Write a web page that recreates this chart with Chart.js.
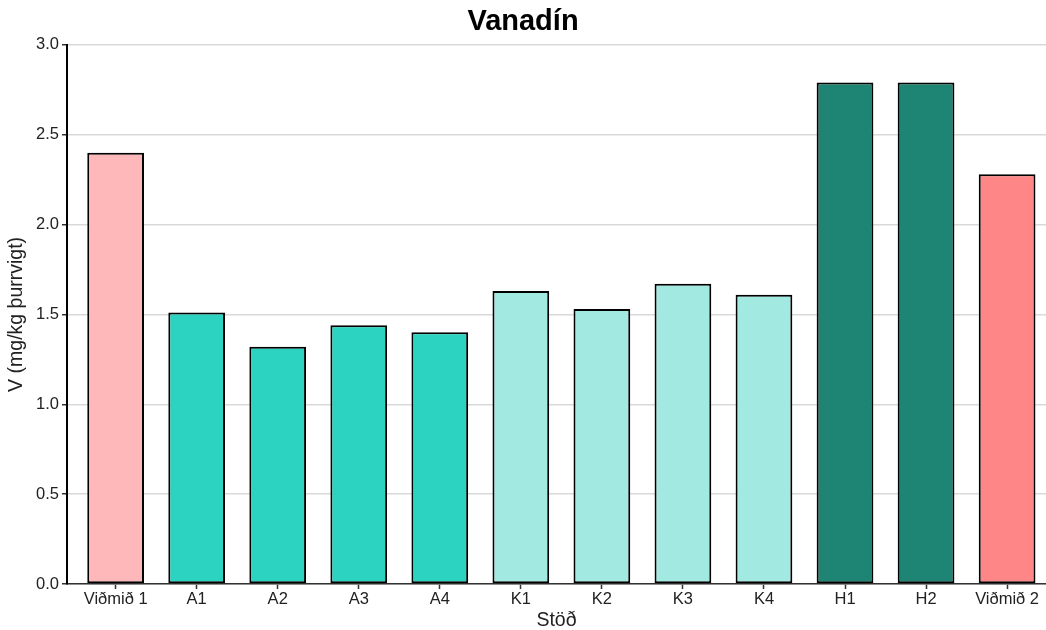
<!DOCTYPE html>
<html>
<head>
<meta charset="utf-8">
<title>Vanadín</title>
<script src="https://cdn.jsdelivr.net/npm/chart.js@4"></script>
<style>
  html, body { margin: 0; padding: 0; background: #fff; }
  #chartBox { width: 1046px; height: 630px; }
</style>
</head>
<body>
<div id="chartBox"><canvas id="dataChart" width="1046" height="630"></canvas></div>
<script>
const stations = ['Viðmið 1', 'A1', 'A2', 'A3', 'A4', 'K1', 'K2', 'K3', 'K4', 'H1', 'H2', 'Viðmið 2'];
const vanadium = [2.40, 1.51, 1.32, 1.44, 1.40, 1.63, 1.53, 1.67, 1.61, 2.79, 2.79, 2.28];
const yTicks = [0, 0.5, 1.0, 1.5, 2.0, 2.5, 3.0];

// one fill per station group
const barColors = ['#FFB8BA', '#2DD3C1', '#2DD3C1', '#2DD3C1', '#2DD3C1',
    '#A1E9E1', '#A1E9E1', '#A1E9E1', '#A1E9E1', '#1E8575', '#1E8575', '#FF8686'];

const ctx = document.getElementById('dataChart').getContext('2d');
const fontFamily = '"Liberation Sans", Arial, sans-serif';

new Chart(ctx, {
    type: 'bar',
    data: {
        datasets: [{
            data: stations.map((s, i) => ({ x: i, y: vanadium[i] })),
            backgroundColor: barColors,
            borderColor: '#000',
            borderWidth: 2,
            borderSkipped: false,
            barPercentage: 0.7,
            categoryPercentage: 1.0
        }]
    },
    options: {
        responsive: false,
        animation: false,
        layout: { padding: 0 },
        plugins: {
            legend: { display: false },
            tooltip: { enabled: false },
            title: {
                display: true,
                text: 'Vanadín',
                color: '#000',
                font: { family: fontFamily, size: 29, weight: 'bold', lineHeight: 1.2 },
                padding: { top: 5, bottom: 5 }
            }
        },
        scales: {
            x: {
                type: 'linear',
                offset: false,
                min: -0.6,
                max: 11.48,
                afterFit: (scale) => { scale.height = 46; },
                afterBuildTicks: (scale) => { scale.ticks = stations.map((s, i) => ({ value: i })); },
                ticks: {
                    autoSkip: false,
                    maxRotation: 0,
                    padding: 1,
                    color: '#222',
                    font: { family: fontFamily, size: 16.5 },
                    callback: (value) => stations[value]
                },
                grid: {
                    offset: false,
                    drawOnChartArea: false,
                    drawTicks: true,
                    tickLength: 5,
                    tickColor: '#333',
                    tickWidth: 1.5
                },
                border: { color: '#333', width: 1.5 },
                title: {
                    display: true,
                    text: 'Stöð',
                    color: '#222',
                    font: { family: fontFamily, size: 19.5 },
                    padding: { top: 0, bottom: -2 }
                }
            },
            y: {
                min: 0,
                max: 3,
                afterFit: (scale) => { scale.width = 67; },
                afterBuildTicks: (scale) => { scale.ticks = yTicks.map(v => ({ value: v })); },
                ticks: {
                    padding: 3,
                    color: '#222',
                    font: { family: fontFamily, size: 16.5 },
                    callback: (value) => value.toFixed(1)
                },
                grid: {
                    color: '#d9d9d9',
                    lineWidth: 1.5,
                    tickLength: 5,
                    tickColor: '#333',
                    tickWidth: 1.5
                },
                border: { color: '#000', width: 2 },
                title: {
                    display: true,
                    text: 'V (mg/kg þurrvigt)',
                    color: '#222',
                    font: { family: fontFamily, size: 19.5 },
                    padding: { top: 5, bottom: 0 }
                }
            }
        }
    }
});
</script>
</body>
</html>
